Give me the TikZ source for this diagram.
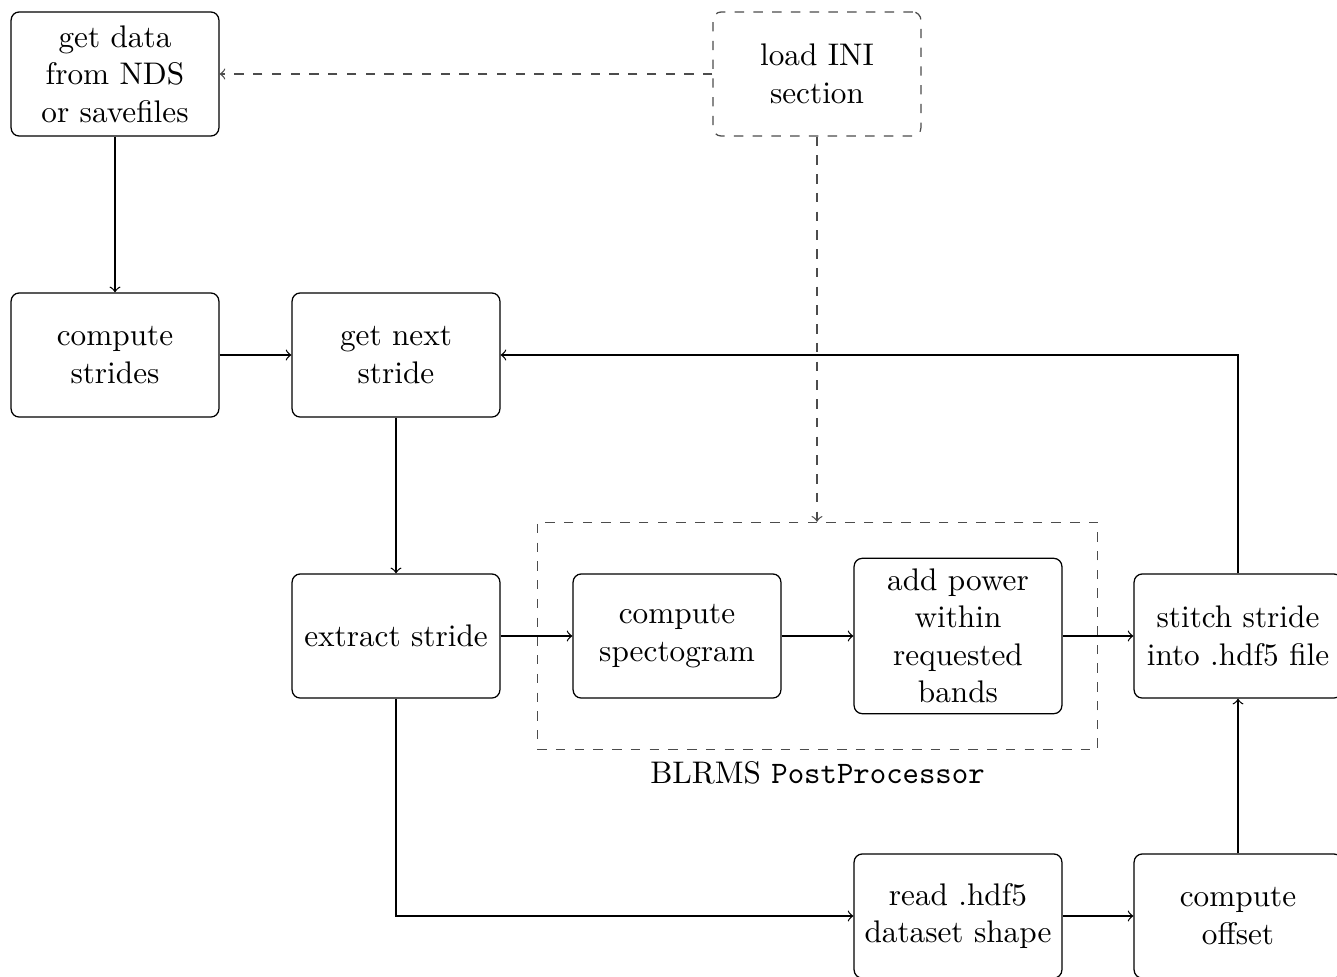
\documentclass[tikz,border=0pt]{standalone}
\usetikzlibrary{fit,positioning}
\begin{document}
\begin{tikzpicture}[x=0.32pt,y=-0.32pt,
  box/.style={draw,rounded corners=2.6pt,align=center,minimum width=66.5pt,minimum height=39.7pt,inner sep=3.33pt},
  dbox/.style={box,dashed,draw=black!70},
  arr/.style={->},
  darr/.style={->,dashed,draw=black!70}]
\useasboundingbox (0,0) rectangle (1337,976);
\node[box]  (get)     at (115,74)  {get data\\from NDS\\or savefiles};
\node[dbox] (ini)     at (817,74)  {load INI\\section};
\node[box]  (strides) at (115,355) {compute\\strides};
\node[box]  (next)    at (396,355) {get next\\stride};
\node[box]  (extract) at (396,636) {extract stride};
\node[box]  (spec)    at (677,636) {compute\\spectogram};
\node[box]  (power)   at (958,636) {add power\\within\\requested\\bands};
\node[box]  (stitch)  at (1238,636) {stitch stride\\into .hdf5 file};
\node[box]  (read)    at (958,916) {read .hdf5\\dataset shape};
\node[box]  (offset)  at (1238,916) {compute\\offset};
\node[draw=black!70,dashed,fit=(spec)(power),inner sep=11.3pt] (blrms) {};
\node[below=0pt of blrms] (blabel) {BLRMS \texttt{PostProcessor}};
\draw[darr] (ini) -- (get);
\draw[darr] (ini) -- (ini |- blrms.north);
\draw[arr] (get) -- (strides);
\draw[arr] (strides) -- (next);
\draw[arr] (next) -- (extract);
\draw[arr] (extract) -- (spec);
\draw[arr] (spec) -- (power);
\draw[arr] (power) -- (stitch);
\draw[arr] (extract) |- (read);
\draw[arr] (read) -- (offset);
\draw[arr] (offset) -- (stitch);
\draw[arr] (stitch) |- (next);
\end{tikzpicture}
\end{document}
